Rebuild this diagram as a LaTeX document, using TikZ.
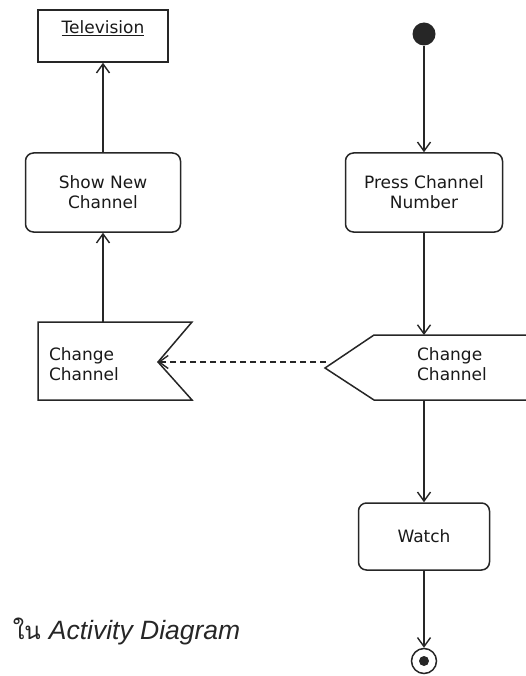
\documentclass[tikz,border=0pt]{standalone}
\usepackage{fontspec}
\setmainfont{DejaVu Sans}
\newfontfamily\thaifont[Script=Thai]{Loma}
\newfontfamily\capfont{Liberation Sans}
\usetikzlibrary{arrows.meta}
\begin{document}
\begin{tikzpicture}[x=1pt,y=-1pt,line width=1.5pt,draw=black!85,
  lbl/.style={font=\fontsize{17}{20}\selectfont,text=black!90,inner sep=0pt},
  activity/.style={draw,rounded corners=8pt,inner sep=0pt,align=center,lbl},
  flow/.style={-{Straight Barb[length=9pt,width=13pt,line width=1.4pt]}},
  signal/.style={draw,line join=miter}]
\useasboundingbox (0,0) rectangle (526,676);
\clip (0,0) rectangle (526,676);
% left column
\node[draw,minimum width=130pt,minimum height=52pt,inner sep=0pt] (tv) at (103,36) {};
\node[lbl] (tvname) at (103,28) {\underline{Television}};
\node[activity,minimum width=155pt,minimum height=79pt] (show) at (103,192.5) {Show New\\Channel};
\coordinate (recvtop) at (103,322);
\coordinate (recvnotch) at (158,362);
\draw[signal] (38,322) -- (192,322) -- (recvnotch) -- (192,400) -- (38,400) -- cycle;
\node[lbl,align=left] (recvlabel) at (84,364) {Change\\Channel};
% right column
\node[fill=black!85,circle,minimum size=23pt,inner sep=0pt] (start) at (424,34) {};
\node[activity,minimum width=157pt,minimum height=79pt] (press) at (424,192.5) {Press Channel\\Number};
\coordinate (sendtop) at (424,335);
\coordinate (sendbottom) at (424,400);
\coordinate (sendtip) at (326,362);
\draw[signal] (545,335) -- (374,335) -- (325,368) -- (374,400) -- (545,400);
\node[lbl,align=left] (sendlabel) at (452,364) {Change\\Channel};
\node[activity,minimum width=131pt,minimum height=67pt] (watch) at (424,536.5) {Watch};
\node[draw,circle,minimum size=25pt,inner sep=0pt] (end) at (424,661) {};
\node[fill=black!85,circle,minimum size=10pt,inner sep=0pt] (enddot) at (end) {};
% flows
\draw[flow] (start) -- (press);
\draw[flow] (press) -- (sendtop);
\draw[flow] (sendbottom) -- (watch);
\draw[flow] (watch) -- (end);
\draw[flow] (recvtop) -- (show);
\draw[flow] (show) -- (tv);
\draw[flow,dash pattern=on 6pt off 4pt] (sendtip) -- (recvnotch);
% caption
\node[anchor=base west,inner sep=0pt,text=black!85] (caption) at (12,639)
  {{\fontsize{24}{28}\selectfont\thaifont ใน}\hspace{8pt}{\fontsize{26.5}{30}\selectfont\capfont\itshape Activity Diagram}};
\end{tikzpicture}
\end{document}
